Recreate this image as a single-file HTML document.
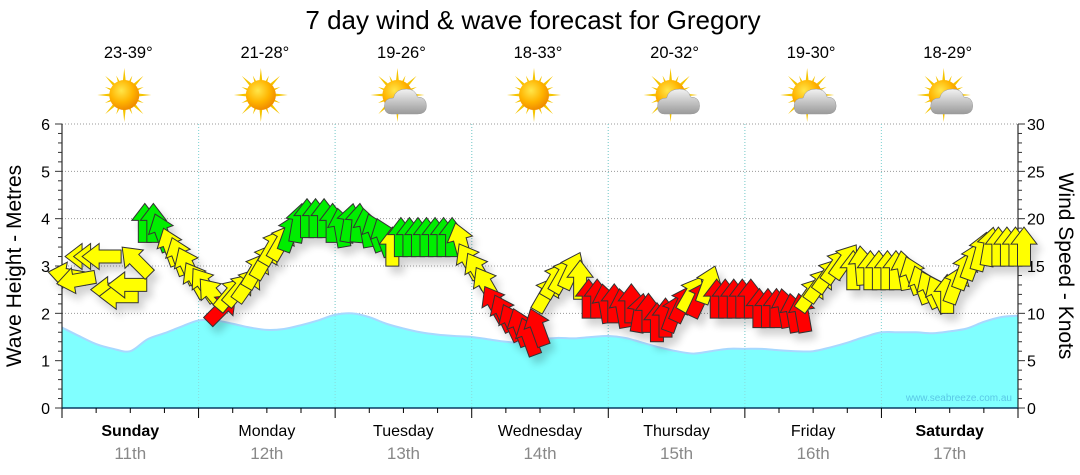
<!DOCTYPE html>
<html><head><meta charset="utf-8"><style>
body{margin:0;background:#fff;}
svg{display:block;font-family:"Liberation Sans",sans-serif;}
</style></head><body>
<svg id="chart" width="1080" height="475" viewBox="0 0 1080 475">
<defs>
<radialGradient id="sunG" cx="40%" cy="35%" r="65%"><stop offset="0" stop-color="#ffe64a"/><stop offset="0.6" stop-color="#ffb400"/><stop offset="1" stop-color="#f08c00"/></radialGradient>
<linearGradient id="cloudG" x1="0" y1="0" x2="0" y2="1"><stop offset="0" stop-color="#f2f2f2"/><stop offset="1" stop-color="#9a9a9a"/></linearGradient>
<filter id="sh" x="-50%" y="-50%" width="200%" height="200%"><feGaussianBlur in="SourceAlpha" stdDeviation="4"/><feOffset dx="5" dy="7"/><feComponentTransfer><feFuncA type="linear" slope="0.18"/></feComponentTransfer><feMerge><feMergeNode/><feMergeNode in="SourceGraphic"/></feMerge></filter>
</defs>
<text x="533" y="29" font-size="26" text-anchor="middle" fill="#000">7 day wind &amp; wave forecast for Gregory</text>
<g id="grid"></g>
<g id="waves"></g>
<g id="axes"></g>
<g id="arrows" filter="url(#sh)"></g>
<g id="icons"></g>
<text x="1012" y="401" font-size="10" text-anchor="end" fill="#5ac8e6">www.seabreeze.com.au</text>
<text transform="translate(21,266) rotate(-90)" font-size="21" text-anchor="middle">Wave Height - Metres</text>
<text transform="translate(1059,266) rotate(90)" font-size="21" text-anchor="middle">Wind Speed - Knots</text>
</svg>
<script>
const days=["Sunday","Monday","Tuesday","Wednesday","Thursday","Friday","Saturday"];
const dates=["11th","12th","13th","14th","15th","16th","17th"];
const temps=["23-39°","21-28°","19-26°","18-33°","20-32°","19-30°","18-29°"];
const cloudy=[0,0,1,0,1,1,1];
const waveTicks=[0,1,2,3,4,5,6];
const windTicks=[0,5,10,15,20,25,30];
const waveHeights=[1.7,1.52,1.35,1.25,1.2,1.45,1.58,1.72,1.85,1.85,1.78,1.7,1.65,1.67,1.75,1.85,1.97,2.0,1.92,1.78,1.68,1.6,1.55,1.52,1.5,1.45,1.4,1.38,1.45,1.48,1.47,1.5,1.52,1.48,1.38,1.28,1.2,1.15,1.2,1.25,1.25,1.25,1.22,1.2,1.2,1.28,1.38,1.5,1.6,1.6,1.6,1.58,1.62,1.68,1.82,1.92,1.95];
const windSpeeds=[14,13.5,16,16,16,12.5,11.8,13,15.5,19.5,19.5,18.5,17,16,15,13.5,
13,12,10.5,12,12.5,13,14.5,15.5,17,17.5,18.5,19.5,20,20,20,19.5,
19,19.5,19.5,19,18.5,18,17,18,18,18,18,18,18,18,17.5,15.5,14.5,
13,11,10,9,8.5,7.5,8.5,12,13.5,14,14.5,13.5,11.5,11.5,11,11,
10.5,11,10,10,9,9.5,10,11,12,11.5,13,11.5,11.5,11.5,11.5,11.5,
10.5,10.5,10.5,10.5,10,10,12,13,14,15,15.5,14.5,15,14.5,14.5,14.5,
14.5,14.5,14,13,12.5,12,12,13,14.5,15.5,16.5,17,17,17,17,17];
const windDirs=[-80,-100,-90,-90,-90,-90,-90,-90,-45,0,0,-20,-20,-20,-25,-30,
-35,-40,45,40,40,35,30,30,30,30,20,10,0,0,0,0,
-10,10,5,-10,-20,-20,0,0,0,0,0,0,0,0,-15,-30,-30,
-30,-30,-25,-25,-20,-20,-20,30,30,30,25,0,0,0,-10,0,
-10,0,10,0,0,0,20,25,30,25,20,0,0,0,0,0,
0,0,0,-10,-10,-10,35,35,35,35,35,0,-5,0,0,0,
0,-10,-20,-20,-25,-25,0,20,20,20,15,10,0,0,0,0];

const X0=62,X1=1018,Y0=408,Y6=124;
const xDay=d=>X0+d*(X1-X0)/7;
const yWave=m=>Y0-m*(Y0-Y6)/6;
const yWind=k=>Y0-k*(Y0-Y6)/30;
const NS="http://www.w3.org/2000/svg";
function mk(tag,attrs,parent){const e=document.createElementNS(NS,tag);for(const k in attrs)e.setAttribute(k,attrs[k]);parent.appendChild(e);return e;}
const grid=document.getElementById('grid'),axes=document.getElementById('axes');
for(const m of waveTicks){if(m===0)continue;const l=mk('line',{x1:X0,x2:X1,y1:yWave(m),y2:yWave(m),stroke:'#999','stroke-dasharray':'1,2'},grid);

}
for(let d=1;d<7;d++){const l=mk('line',{x1:xDay(d),x2:xDay(d),y1:Y6,y2:Y0,stroke:'#999','stroke-dasharray':'1,2'},grid);

}
const wg=document.getElementById('waves');
const pts=waveHeights.map((h,i)=>[xDay(i/8),yWave(h)]);
let d='M'+pts[0][0]+','+pts[0][1];
for(let i=0;i<pts.length-1;i++){const p0=pts[Math.max(0,i-1)],p1=pts[i],p2=pts[i+1],p3=pts[Math.min(pts.length-1,i+2)];
d+=` C${p1[0]+(p2[0]-p0[0])/6},${p1[1]+(p2[1]-p0[1])/6} ${p2[0]-(p3[0]-p1[0])/6},${p2[1]-(p3[1]-p1[1])/6} ${p2[0]},${p2[1]}`;}
const area=mk('path',{d:d+` L${X1},${Y0} L${X0},${Y0} Z`,fill:'#80ffff'},wg);


const wl=mk('path',{d:d,fill:'none',stroke:'#a8d8ff','stroke-width':2},wg);


for(let dd=1;dd<7;dd++){const l=mk('line',{x1:xDay(dd),x2:xDay(dd),y1:Y6,y2:Y0,stroke:'#8dd','stroke-dasharray':'1,2'},wg);}
const aL=mk('line',{x1:X0,x2:X0,y1:Y6,y2:Y0,stroke:'#000'},axes);
const aR=mk('line',{x1:X1,x2:X1,y1:Y6,y2:Y0,stroke:'#000'},axes);
const aB=mk('line',{x1:X0,x2:X1,y1:Y0,y2:Y0,stroke:'#0a3c64','stroke-width':1.5},axes);
for(let i=0;i<=30;i++){const y=Y0-i*(Y0-Y6)/30;const len=(i%5===0)?7:4;
mk('line',{x1:X0-len,x2:X0,y1:y,y2:y,stroke:'#333'},axes);mk('line',{x1:X1,x2:X1+len,y1:y,y2:y,stroke:'#333'},axes);}
for(const m of waveTicks){const t=mk('text',{x:50,y:yWave(m)+6,'font-size':16,'text-anchor':'end'},axes);t.textContent=m;

}
for(const k of windTicks){const t=mk('text',{x:1027,y:yWind(k)+6,'font-size':16,'text-anchor':'start'},axes);t.textContent=k;

}
for(let i=0;i<=28;i++){const x=xDay(i/4);mk('line',{x1:x,x2:x,y1:Y0,y2:Y0+(i%4===0?10:5),stroke:'#000'},axes);}
days.forEach((dn,i)=>{const cx=xDay(i+0.5);const bold=(i===0||i===6);
const t=mk('text',{x:cx,y:436,'font-size':16,'text-anchor':'middle','font-weight':bold?'bold':'normal'},axes);t.textContent=dn;


const t2=mk('text',{x:cx,y:459,'font-size':17,'text-anchor':'middle',fill:'#888'},axes);t2.textContent=dates[i];


const t3=mk('text',{x:cx-2,y:58,'font-size':16.5,'text-anchor':'middle'},axes);t3.textContent=temps[i];


const ic=document.getElementById('icons');const g=mk('g',{transform:`translate(${cx-6},95)`},ic);


for(let r=0;r<16;r++){const a=r*22.5;const L=(r%2===0)?27:21;mk('polygon',{points:`-3,0 3,0 0,${-L}`,fill:'#f5c400',transform:`rotate(${a})`},g);}
mk('circle',{r:15,fill:'url(#sunG)'},g);
if(cloudy[i]){mk('path',{d:'M-6,19 Q-13,19 -13,11 Q-13,3 -4,3 Q-2,-6 9,-6 Q18,-6 20,2 Q29,2 29,11 Q29,19 20,19 Z',fill:'url(#cloudG)',stroke:'#999','stroke-width':0.5},g);}
});
const ag=document.getElementById('arrows');
const step=(X1-X0)/112;
windSpeeds.forEach((k,i)=>{const x=X0+6+i*step;const y=yWind(k);const col=k<11.8?'#ff0000':(k<17.8?'#ffff00':'#00ee00');
const p=mk('polygon',{points:'0,-20 13,-3 6.5,-3 6.5,19 -6.5,19 -6.5,-3 -13,-3',fill:col,stroke:'#333','stroke-width':1,transform:`translate(${x},${y}) rotate(${windDirs[i]})`},ag);

});
</script>
</body></html>
